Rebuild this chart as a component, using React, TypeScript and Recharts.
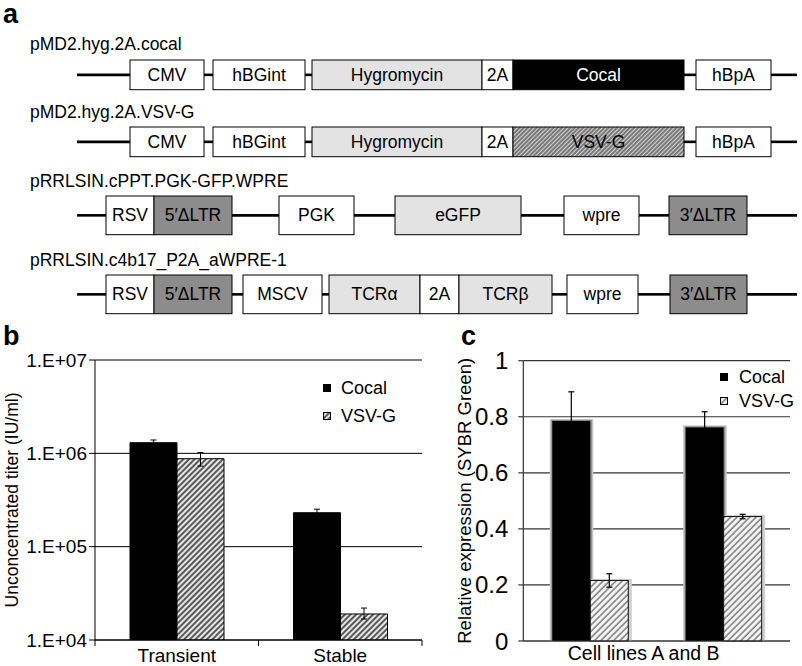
import React from 'react';
import { BarChart, Bar, XAxis, YAxis, CartesianGrid, ErrorBar, Legend } from 'recharts';

const FONT = '"Liberation Sans", Arial, Helvetica, sans-serif';

// ---------- Panel a: construct maps (positions along the map) ----------
const constructNames = [
  'pMD2.hyg.2A.cocal',
  'pMD2.hyg.2A.VSV-G',
  'pRRLSIN.cPPT.PGK-GFP.WPRE',
  'pRRLSIN.c4b17_P2A_aWPRE-1',
];
const backboneFrom = [77, 77, 77, 77];
const backboneTo = [797, 797, 797, 797];

const cocalConstruct = [
  { name: 'CMV', from: 130, to: 204, kind: 'plain' },
  { name: 'hBGint', from: 213, to: 305, kind: 'plain' },
  { name: 'Hygromycin', from: 312, to: 482, kind: 'light' },
  { name: '2A', from: 482, to: 513, kind: 'plain' },
  { name: 'Cocal', from: 513, to: 684, kind: 'solid' },
  { name: 'hBpA', from: 696, to: 771, kind: 'plain' },
];
const vsvgConstruct = [
  { name: 'CMV', from: 130, to: 204, kind: 'plain' },
  { name: 'hBGint', from: 213, to: 305, kind: 'plain' },
  { name: 'Hygromycin', from: 312, to: 482, kind: 'light' },
  { name: '2A', from: 482, to: 513, kind: 'plain' },
  { name: 'VSV-G', from: 513, to: 684, kind: 'hatch' },
  { name: 'hBpA', from: 696, to: 771, kind: 'plain' },
];
const gfpConstruct = [
  { name: 'RSV', from: 106, to: 154, kind: 'plain' },
  { name: '5\u2032\u0394LTR', from: 154, to: 232, kind: 'dark' },
  { name: 'PGK', from: 279, to: 354, kind: 'plain' },
  { name: 'eGFP', from: 395, to: 521, kind: 'light' },
  { name: 'wpre', from: 564, to: 639, kind: 'plain' },
  { name: '3\u2032\u0394LTR', from: 669, to: 747, kind: 'dark' },
];
const tcrConstruct = [
  { name: 'RSV', from: 106, to: 154, kind: 'plain' },
  { name: '5\u2032\u0394LTR', from: 154, to: 232, kind: 'dark' },
  { name: 'MSCV', from: 243, to: 322, kind: 'plain' },
  { name: 'TCR\u03b1', from: 329, to: 420, kind: 'light' },
  { name: '2A', from: 420, to: 459, kind: 'plain' },
  { name: 'TCR\u03b2', from: 459, to: 552, kind: 'light' },
  { name: 'wpre', from: 567, to: 638, kind: 'plain' },
  { name: '3\u2032\u0394LTR', from: 670, to: 747, kind: 'dark' },
];
const constructs = [cocalConstruct, vsvgConstruct, gfpConstruct, tcrConstruct];

// ---------- Panel b: titer ----------
const titerCategories = ['Transient', 'Stable'];
const titerCocal = [1.3e6, 2.31e5];
const titerCocalErr = [9e4, 2.1e4];
const titerVsvg = [8.76e5, 1.9e4];
const titerVsvgErr = [[1.46e5, 1.44e5], [2.2e3, 3.0e3]];
const titerTicks = [1e4, 1e5, 1e6, 1e7];

// ---------- Panel c: relative expression ----------
const cellLines = ['A', 'B'];
const exprCocal = [0.785, 0.762];
const exprCocalErr = [0.104, 0.056];
const exprVsvg = [0.216, 0.444];
const exprVsvgErr = [0.024, 0.008];
const exprTicks = [0, 0.2, 0.4, 0.6, 0.8, 1];

const seriesNames = ['Cocal', 'VSV-G'];

// ---------- styles ----------
const kindFill: Record<string, string> = {
  plain: '#ffffff',
  light: '#e3e3e3',
  dark: '#8c8c8c',
  solid: '#000000',
  hatch: 'url(#hatchMap)',
};
const rowLayout = [
  { top: 58, h: 33, labelY: 50 },
  { top: 125, h: 33, labelY: 118 },
  { top: 194, h: 43, labelY: 187 },
  { top: 273, h: 43, labelY: 266 },
];

type Seg = { kind: string; len: number; label?: string };

const SegShape = (props: any) => {
  const { x, y, width, height, seg } = props;
  if (!seg || seg.kind === 'none' || !(width > 0)) return <g />;
  if (seg.kind === 'line') {
    const cy = y + height / 2;
    return <line x1={x} x2={x + width} y1={cy} y2={cy} stroke="#000" strokeWidth={2.6} />;
  }
  return (
    <g>
      <rect x={x} y={y} width={width} height={height} fill={kindFill[seg.kind]} stroke="#000" strokeWidth={1} />
      <text
        x={x + width / 2}
        y={y + height / 2}
        textAnchor="middle"
        dominantBaseline="central"
        fontSize={17.5}
        fontFamily={FONT}
        fill={seg.kind === 'solid' ? '#fff' : '#000'}
      >
        {seg.label}
      </text>
    </g>
  );
};

function ConstructRow({ index }: { index: number }) {
  const elements = constructs[index];
  const start = backboneFrom[index];
  const end = backboneTo[index];
  const lay = rowLayout[index];
  const segs: Seg[] = [{ kind: 'none', len: start }];
  let cur = start;
  elements.forEach((el) => {
    if (el.from > cur) segs.push({ kind: 'line', len: el.from - cur });
    segs.push({ kind: el.kind, len: el.to - el.from, label: el.name });
    cur = el.to;
  });
  if (end > cur) segs.push({ kind: 'line', len: end - cur });
  const datum: Record<string, any> = { row: constructNames[index] };
  segs.forEach((s, i) => {
    datum['s' + i] = s.len;
  });
  return (
    <div style={{ position: 'absolute', left: 0, top: lay.top - 1 }}>
      <BarChart
        layout="vertical"
        width={802}
        height={lay.h + 2}
        data={[datum]}
        margin={{ top: 1, bottom: 1, left: 0, right: 0 }}
        barCategoryGap={0}
        barGap={0}
      >
        <XAxis type="number" domain={[0, 802]} hide allowDataOverflow />
        <YAxis type="category" dataKey="row" hide />
        {segs.map((s, i) => (
          <Bar
            key={i}
            dataKey={'s' + i}
            stackId="map"
            barSize={lay.h}
            isAnimationActive={false}
            shape={(p: any) => <SegShape {...p} seg={s} />}
          />
        ))}
      </BarChart>
    </div>
  );
}

// ---------- legend ----------
const LegendBlock = ({ fills, rowH, gap }: { fills: string[]; rowH: number; gap: number }) => (
  <div style={{ fontFamily: FONT, fontSize: 18, color: '#000' }}>
    {seriesNames.map((n, i) => (
      <div key={n} style={{ display: 'flex', alignItems: 'center', height: rowH }}>
        <svg width={8} height={8} style={{ display: 'block' }}>
          <rect x={0.5} y={0.5} width={7} height={7} fill={fills[i]} stroke="#000" strokeWidth={1} />
        </svg>
        <span style={{ marginLeft: gap, lineHeight: 1 }}>{n}</span>
      </div>
    ))}
  </div>
);

// ---------- ticks ----------
const TiterTick = (props: any) => {
  const { x, y, payload, index } = props;
  const half = payload && typeof payload.offset === 'number' && payload.offset > 0 ? payload.offset : 81.75;
  const axisY = y - 8;
  return (
    <g>
      <line x1={x - half} x2={x - half} y1={axisY} y2={axisY + 6} stroke="#000" />
      {index === titerCategories.length - 1 && (
        <line x1={x + half} x2={x + half} y1={axisY} y2={axisY + 6} stroke="#000" />
      )}
      <text x={x} y={y} dy={14} textAnchor="middle" fontSize={19} fontFamily={FONT} fill="#000">
        {payload.value}
      </text>
    </g>
  );
};

const logFmt = (v: number) => {
  const e = Math.round(Math.log10(v));
  return `1.E+${e < 10 ? '0' : ''}${e}`;
};

const YTick = (props: any) => {
  const { x, y, payload, size, fmt } = props;
  return (
    <text x={x} y={y} textAnchor="end" dominantBaseline="central" fontSize={size} fontFamily={FONT} fill="#000">
      {fmt(payload.value)}
    </text>
  );
};

const CocalExprShape = (props: any) => {
  const { x, y, width, height } = props;
  if (!(height > 0)) return <g />;
  return (
    <g>
      <rect x={x - 2.5} y={y - 2} width={width + 5.5} height={height + 2} fill="#c4c4c4" />
      <rect x={x - 1} y={y - 1} width={width + 2.5} height={height + 1} fill="#8a8a8a" />
      <rect x={x} y={y} width={width} height={height} fill="#000" />
    </g>
  );
};
const VsvExprShape = (props: any) => {
  const { x, y, width, height } = props;
  if (!(height > 0)) return <g />;
  return (
    <g>
      <rect x={x + 1} y={y - 1.5} width={width + 2.5} height={height + 1.5} fill="#cfcfcf" />
      <rect x={x} y={y} width={width} height={height} fill="url(#hatchC)" stroke="#111" strokeWidth={1} />
    </g>
  );
};

export default function App() {
  const titerData = titerCategories.map((c, i) => ({
    cat: c,
    cocal: titerCocal[i],
    cocalErr: titerCocalErr[i],
    vsvg: titerVsvg[i],
    vsvgErr: titerVsvgErr[i],
  }));
  const exprData = cellLines.map((c, i) => ({
    line: c,
    cocal: exprCocal[i],
    cocalErr: exprCocalErr[i],
    vsvg: exprVsvg[i],
    vsvgErr: exprVsvgErr[i],
  }));

  return (
    <div
      style={{
        position: 'absolute',
        left: 0,
        top: 0,
        width: 802,
        height: 666,
        background: '#fff',
        fontFamily: FONT,
        overflow: 'hidden',
      }}
    >
      <svg width={0} height={0} style={{ position: 'absolute' }}>
        <defs>
          <pattern id="hatchMap" width={3} height={3} patternUnits="userSpaceOnUse" patternTransform="rotate(45)">
            <rect width={3} height={3} fill="#d0d0d0" />
            <line x1={1} y1={0} x2={1} y2={3} stroke="#333" strokeWidth={1.1} />
          </pattern>
          <pattern id="hatchB" width={4} height={4} patternUnits="userSpaceOnUse" patternTransform="rotate(45)">
            <rect width={4} height={4} fill="#e6e6e6" />
            <line x1={1} y1={0} x2={1} y2={4} stroke="#2a2a2a" strokeWidth={1.5} />
          </pattern>
          <pattern id="hatchC" width={4.5} height={4.5} patternUnits="userSpaceOnUse" patternTransform="rotate(45)">
            <rect width={4.5} height={4.5} fill="#f4f4f4" />
            <line x1={1} y1={0} x2={1} y2={4.5} stroke="#6a6a6a" strokeWidth={1.3} />
          </pattern>
        </defs>
      </svg>

      {/* Panel a */}
      {constructs.map((_, i) => (
        <ConstructRow key={i} index={i} />
      ))}

      {/* Panel b */}
      <div style={{ position: 'absolute', left: 0, top: 330 }}>
        <BarChart
          width={440}
          height={336}
          data={titerData}
          margin={{ top: 30, right: 18, bottom: 0, left: 15 }}
          barGap={0}
          barSize={47}
        >
          <CartesianGrid horizontal vertical={false} stroke="#000" />
          <XAxis
            dataKey="cat"
            axisLine={{ stroke: '#000' }}
            tickLine={false}
            tickSize={6}
            tickMargin={2}
            height={26}
            interval={0}
            tick={<TiterTick />}
          />
          <YAxis
            type="number"
            scale="log"
            domain={[1e4, 1e7]}
            allowDataOverflow
            ticks={titerTicks}
            interval={0}
            width={80}
            axisLine={{ stroke: '#000' }}
            tickLine={{ stroke: '#000' }}
            tickSize={6}
            tickMargin={2}
            tick={<YTick size={19} fmt={logFmt} />}
            label={{
              value: 'Unconcentrated titer (IU/ml)',
              angle: -90,
              position: 'insideLeft',
              offset: -3,
              style: { textAnchor: 'middle', fontSize: 17.5, fill: '#000', fontFamily: FONT },
            }}
          />
          <Legend
            layout="vertical"
            align="center"
            verticalAlign="middle"
            wrapperStyle={{ left: 323, top: 44, width: 100, height: 56 }}
            content={() => <LegendBlock fills={['#000', 'url(#hatchB)']} rowH={28} gap={10} />}
          />
          <Bar dataKey="cocal" name="Cocal" fill="#000" stroke="#000" isAnimationActive={false}>
            <ErrorBar dataKey="cocalErr" width={3} stroke="#000" strokeWidth={1} />
          </Bar>
          <Bar dataKey="vsvg" name="VSV-G" fill="url(#hatchB)" stroke="#000" strokeWidth={1} isAnimationActive={false}>
            <ErrorBar dataKey="vsvgErr" width={3} stroke="#000" strokeWidth={1} />
          </Bar>
        </BarChart>
      </div>

      {/* Panel c */}
      <div style={{ position: 'absolute', left: 420, top: 330 }}>
        <BarChart
          width={382}
          height={336}
          data={exprData}
          margin={{ top: 30.7, right: 12, bottom: 0, left: 13.3 }}
          barGap={0}
          barSize={38}
        >
          <CartesianGrid horizontal vertical={false} stroke="#333" strokeWidth={1.2} />
          <XAxis
            dataKey="line"
            tick={false}
            tickLine={false}
            axisLine={{ stroke: '#333', strokeWidth: 1.2 }}
            height={25}
            label={{
              value: 'Cell lines A and B',
              position: 'insideBottom',
              offset: 6,
              dx: -13,
              style: { fontSize: 19.5, fill: '#000', fontFamily: FONT },
            }}
          />
          <YAxis
            type="number"
            domain={[0, 1]}
            ticks={exprTicks}
            interval={0}
            width={90}
            tickSize={5}
            tickMargin={10}
            axisLine={{ stroke: '#333', strokeWidth: 1.2 }}
            tickLine={{ stroke: '#333', strokeWidth: 1.2 }}
            tick={<YTick size={24} fmt={(v: number) => String(v)} />}
            label={{
              value: 'Relative expression (SYBR Green)',
              angle: -90,
              position: 'insideLeft',
              offset: 31.5,
              style: { textAnchor: 'middle', fontSize: 18.5, fill: '#000', fontFamily: FONT },
            }}
          />
          <Legend
            layout="vertical"
            align="center"
            verticalAlign="middle"
            wrapperStyle={{ left: 300, top: 34.7, width: 80, height: 48 }}
            content={() => <LegendBlock fills={['#000', 'url(#hatchC)']} rowH={24} gap={11} />}
          />
          <Bar dataKey="cocal" name="Cocal" fill="#000" isAnimationActive={false} shape={<CocalExprShape />}>
            <ErrorBar dataKey="cocalErr" width={3} stroke="#000" strokeWidth={1.2} />
          </Bar>
          <Bar dataKey="vsvg" name="VSV-G" fill="url(#hatchC)" isAnimationActive={false} shape={<VsvExprShape />}>
            <ErrorBar dataKey="vsvgErr" width={3} stroke="#000" strokeWidth={1.2} />
          </Bar>
        </BarChart>
      </div>

      {/* Texts: panel letters and construct names */}
      <svg
        width={802}
        height={666}
        style={{ position: 'absolute', left: 0, top: 0, pointerEvents: 'none' }}
      >
        <text x={3} y={23} fontSize={27} fontWeight="bold" fontFamily={FONT} fill="#000">a</text>
        <text x={3} y={345} fontSize={27} fontWeight="bold" fontFamily={FONT} fill="#000">b</text>
        <text x={461} y={345} fontSize={27} fontWeight="bold" fontFamily={FONT} fill="#000">c</text>
        {constructNames.map((n, i) => (
          <text key={n} x={30} y={rowLayout[i].labelY} fontSize={17.5} fontFamily={FONT} fill="#000">
            {n}
          </text>
        ))}
      </svg>
    </div>
  );
}
